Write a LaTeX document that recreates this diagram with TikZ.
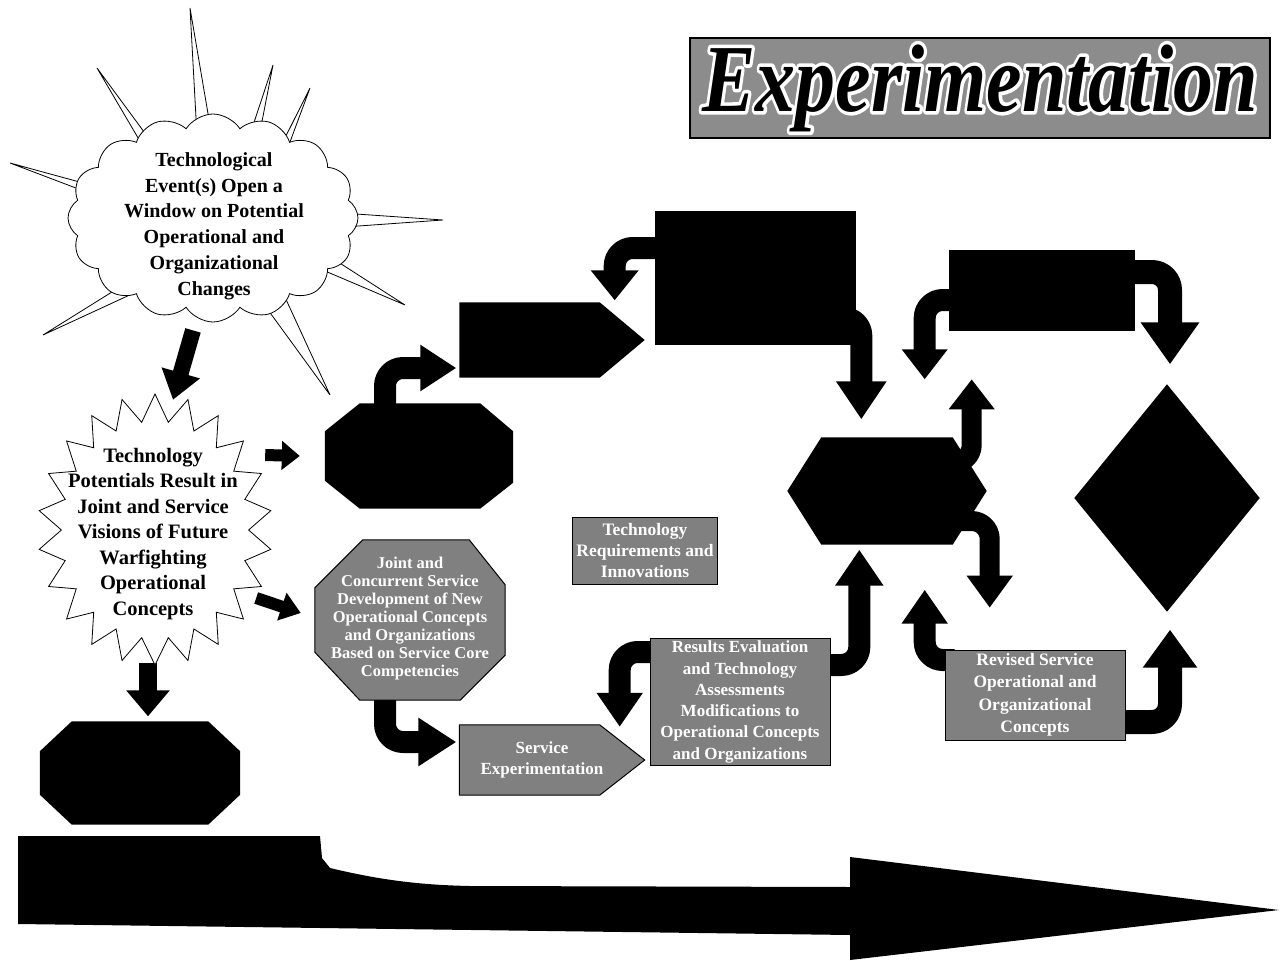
\documentclass[tikz,border=0pt]{standalone}
\usepackage{fontspec}
\setmainfont{Liberation Serif}
\usetikzlibrary{arrows.meta,shapes.symbols,shapes.geometric,calc}
\pgfdeclarelayer{bg}
\pgfsetlayers{bg,main}
\tikzset{
  barrow/.style n args={3}{draw=black, line width=#1, line join=round, rounded corners=18pt, -{Triangle[width=#2, length=#3]}},
  graybox/.style={fill=black!50, draw=black, line width=1pt, text=white, align=center, inner sep=2pt},
  blackbox/.style={fill=black, draw=black},
  cloudtxt/.style={font=\bfseries\fontsize{20}{25.8}\selectfont, align=center},
  startxt/.style={font=\bfseries\fontsize{20.5}{25.5}\selectfont, align=center},
  smalltxt/.style={font=\bfseries\fontsize{16.5}{18}\selectfont, align=center, text=white},
  midtxt/.style={font=\bfseries\fontsize{17}{21}\selectfont, align=center, text=white},
  titlefont/.style={font=\bfseries\itshape\fontsize{80}{80}\selectfont},
  spike/.style={draw=black, fill=white, line width=0.8pt},
}
\newcommand\spk[3]{\draw[spike] ($(#1)!0.25!(cc)$) -- (#2) -- ($(#3)!0.25!(cc)$);}
\newcommand\strokedtext[1]{\special{pdf:literal direct 1 Tr 6 w 1 J 1 j 1 1 1 RG}#1\special{pdf:literal direct 0 Tr 1 w 0 J 0 j 0 0 0 RG}}
\begin{document}
\begin{tikzpicture}[x=1pt,y=-1pt]
\useasboundingbox (0,0) rectangle (1280,961);
\begin{pgfonlayer}{bg}
\fill[white] (0,0) rectangle (1280,961);
\end{pgfonlayer}

% ---------- title ----------
\node[fill=black!45, draw=black, line width=1.2pt, minimum width=580pt, minimum height=100pt] (title) at (980,88) {};
\node[titlefont, text=white] (titlehalo) at (title.center) {\scalebox{1}[1.2]{\strokedtext{Experimentation}}};
\node[titlefont, text=black] (titletext) at (title.center) {\scalebox{1}[1.2]{Experimentation}};

% ---------- starburst + cloud ----------
\coordinate (cc) at (213,218);
\spk{192,115}{190,8}{212,112}
\spk{257,123}{273,65}{270,132}
\spk{298,133}{310,88}{307,140}
\spk{365,210}{443,220}{360,232}
\spk{357,262}{405,305}{342,280}
\spk{305,315}{330,395}{275,325}
\spk{125,310}{43,335}{105,300}
\spk{75,195}{10,163}{90,185}
\spk{130,140}{97,68}{143,133}
\node[cloud, cloud puffs=16, cloud puff arc=115, aspect=1.35, draw, fill=white, line width=0.8pt,
      minimum width=290pt, minimum height=208pt] (cloud) at (cc) {};
\node[cloudtxt] at (214,226) {Technological\\Event(s) Open a\\Window on Potential\\Operational and\\Organizational\\Changes};

% ---------- spiky star ----------
\coordinate (starc) at (155,530);
\node[inner sep=0pt, minimum width=230pt, minimum height=270pt] (star) at (starc) {};
\draw[fill=white, line width=0.8pt] ($(starc)+(90:135)$)
  \foreach \i [evaluate=\i as \ang using 90+\i*360/44,
               evaluate=\i as \rr using {mod(\i,2)==0 ? 1 : 0.8}] in {1,...,43} {
    -- ($(starc)+(\ang:{117*\rr} and {136*\rr})$) } -- cycle;
\node[startxt] at (153,534) {Technology\\Potentials Result in\\Joint and Service\\Visions of Future\\Warfighting\\Operational\\Concepts};

% ---------- placeholder nodes for shapes ----------
\node[inner sep=0pt, minimum width=200pt, minimum height=103pt] (boct) at (140,773) {};
\node[inner sep=0pt, minimum width=188pt, minimum height=105pt] (toct) at (419,456) {};
\node[inner sep=0pt, minimum width=190pt, minimum height=160pt] (goct) at (410,620) {};
\node[inner sep=0pt, minimum width=185pt, minimum height=75pt] (bpent) at (552,340) {};
\node[inner sep=0pt, minimum width=185pt, minimum height=70pt] (gpent) at (552,760) {};
\node[inner sep=0pt, minimum width=199pt, minimum height=107pt] (hex) at (887,491) {};
\node[inner sep=0pt, minimum width=185pt, minimum height=227pt] (dia) at (1167,498) {};

% boxes
\node[blackbox, minimum width=200pt, minimum height=133pt] (topbox) at (755,278) {};
\node[blackbox, minimum width=185pt, minimum height=80pt] (rtbox) at (1042,290) {};
\node[graybox, minimum width=145pt, minimum height=67pt, font=\bfseries\fontsize{17.5}{21}\selectfont] (techreq) at (645,551)
  {Technology\\Requirements and\\Innovations};
\node[graybox, minimum width=180pt, minimum height=125pt, font=\bfseries\fontsize{17}{21.3}\selectfont] (results) at (740,702)
  {Results Evaluation\\and Technology\\Assessments\\Modifications to\\Operational Concepts\\and Organizations};
\node[graybox, minimum width=180pt, minimum height=90pt, font=\bfseries\fontsize{17.5}{22.5}\selectfont] (revised) at (1035,695)
  {Revised Service\\Operational and\\Organizational\\Concepts};

% ---------- custom shapes ----------
\fill[black] ($(boct.north west)+(32,0)$) -- ($(boct.north east)+(-32,0)$) -- ($(boct.north east)+(0,30)$)
  -- ($(boct.south east)+(0,-30)$) -- ($(boct.south east)+(-32,0)$) -- ($(boct.south west)+(32,0)$)
  -- ($(boct.south west)+(0,-30)$) -- ($(boct.north west)+(0,30)$) -- cycle;
\fill[black] ($(toct.north west)+(35,0)$) -- ($(toct.north east)+(-33,0)$) -- ($(toct.north east)+(0,28)$)
  -- ($(toct.south east)+(0,-26)$) -- ($(toct.south east)+(-33,0)$) -- ($(toct.south west)+(35,0)$)
  -- ($(toct.south west)+(0,-28)$) -- ($(toct.north west)+(0,28)$) -- cycle;
\draw[fill=black!50, line width=1pt] ($(goct.north west)+(48,0)$) -- ($(goct.north east)+(-36,0)$) -- ($(goct.north east)+(0,45)$)
  -- ($(goct.south east)+(0,-45)$) -- ($(goct.south east)+(-45,0)$) -- ($(goct.south west)+(45,0)$)
  -- ($(goct.south west)+(0,-48)$) -- ($(goct.north west)+(0,48)$) -- cycle;
\node[smalltxt] at ($(goct.center)+(0,-1)$) {Joint and\\Concurrent Service\\Development of New\\Operational Concepts\\and Organizations\\Based on Service Core\\Competencies};
\fill[black] (bpent.north west) -- ($(bpent.north east)+(-45,0)$) -- (bpent.east) -- ($(bpent.south east)+(-45,0)$) -- (bpent.south west) -- cycle;
\draw[fill=black!50, line width=1pt] (gpent.north west) -- ($(gpent.north east)+(-45,0)$) -- (gpent.east) -- ($(gpent.south east)+(-45,0)$) -- (gpent.south west) -- cycle;
\node[midtxt] at ($(gpent.center)+(-10,0)$) {Service\\Experimentation};
\fill[black] (hex.west) -- ($(hex.north west)+(34,0)$) -- ($(hex.north east)+(-34,0)$) -- (hex.east)
  -- ($(hex.south east)+(-34,0)$) -- ($(hex.south west)+(34,0)$) -- cycle;
\fill[black] (dia.north) -- (dia.east) -- (dia.south) -- (dia.west) -- cycle;

% ---------- block arrows (behind) ----------
\begin{pgfonlayer}{bg}
\draw[barrow={16pt}{38pt}{28pt}] ($(cloud.south)+(-20,8)$) -- ($(star.north)+(18,5)$);
\draw[barrow={12pt}{28pt}{18pt}] ($(star.east)+(-5,-75)$) -- ($(toct.west)+(-25,0)$);
\draw[barrow={12pt}{28pt}{20pt}] ($(star.east)+(-14,68)$) -- ($(goct.west)+(-14,-7)$);
\draw[barrow={18pt}{42pt}{26pt}] ($(star.south)+(-7,-2)$) -- ($(boct.north)+(8,-5)$);
\draw[barrow={22pt}{44pt}{36pt}] ($(toct.north)+(-34,10)$) |- ($(bpent.west)+(-3,28)$);
\draw[barrow={22pt}{46pt}{38pt}] ($(goct.south)+(-25,-10)$) |- ($(gpent.west)+(-3,-18)$);
\draw[barrow={22pt}{46pt}{30pt}] ($(topbox.west)+(10,-30)$) -| ($(bpent.north east)+(-30,-2)$);
\draw[barrow={22pt}{48pt}{38pt}] ($(topbox.south east)+(-25,-27)$) -| ($(hex.north west)+(74,-18)$);
\draw[barrow={20pt}{44pt}{30pt}] ($(hex.east)+(-32,-28)$) -| ($(hex.north east)+(-15,-58)$);
\draw[barrow={20pt}{44pt}{32pt}] ($(hex.east)+(-32,30)$) -| ($(hex.south east)+(3,63)$);
\draw[barrow={22pt}{44pt}{30pt}] ($(rtbox.west)+(10,10)$) -| ($(hex.north east)+(-62,-58)$);
\draw[barrow={24pt}{56pt}{42pt}] ($(rtbox.east)+(-10,-18)$) -| ($(dia.north)+(3,-20)$);
\draw[barrow={24pt}{52pt}{38pt}] ($(revised.east)+(-10,27)$) -| ($(dia.south)+(3,18)$);
\draw[barrow={22pt}{44pt}{34pt}] ($(revised.west)+(10,-35)$) -| ($(hex.south east)+(-62,45)$);
\draw[barrow={22pt}{46pt}{36pt}] ($(results.east)+(-10,-37)$) -| ($(hex.south west)+(72,5)$);
\draw[barrow={22pt}{44pt}{34pt}] ($(results.west)+(10,-50)$) -| ($(gpent.north east)+(-25,2)$);
\end{pgfonlayer}

% ---------- bottom timeline arrow ----------
\fill[black] (18,836) -- (320,836) -- (322,858) -- (330,868) .. controls (380,880) and (420,885) .. (470,886)
  -- (850,887) -- (850,857) -- (1279,910) -- (850,960) -- (850,935) -- (18,924) -- cycle;
\end{tikzpicture}
\end{document}
